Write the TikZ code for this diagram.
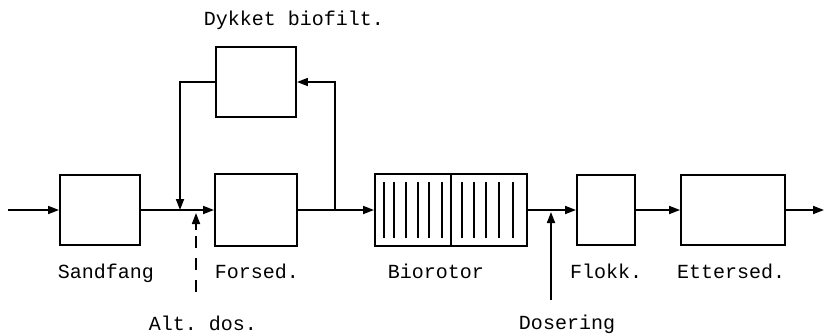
\documentclass[tikz,border=0pt]{standalone}
\usepackage{fontspec}
\setmonofont{Liberation Mono}
\usetikzlibrary{arrows.meta}
\tikzset{
  unit/.style={draw, line width=1.9pt, inner sep=0pt},
  flow/.style={line width=1.7pt, -{Triangle[length=11pt,width=8pt]}},
  plain/.style={line width=1.7pt},
  lbl/.style={anchor=base, inner sep=0pt, font=\ttfamily\fontsize{20}{24}\selectfont},
  bar/.style={line width=2.6pt}
}
\begin{document}
\begin{tikzpicture}[x=1pt,y=-1pt]
\useasboundingbox (0,0) rectangle (824,335);
% boxes
\node[unit, minimum width=80pt, minimum height=70pt] (sand) at (100,210) {};
\node[unit, minimum width=82pt, minimum height=72pt] (fors) at (256,210) {};
\node[unit, minimum width=80pt, minimum height=70pt] (dyk) at (256,82) {};
\node[unit, minimum width=152pt, minimum height=72pt] (bio) at (451,210) {};
\node[unit, minimum width=58pt, minimum height=70pt] (flok) at (606,210) {};
\node[unit, minimum width=104pt, minimum height=70pt] (ett) at (733,210) {};
% biorotor interior
\draw[line width=1.9pt] (bio.north) -- (bio.south);
\foreach \x in {384,394,406,418,429,442,462,474,486,499,513}
  \draw[bar] (\x,182) -- (\x,238);
% coordinates
\coordinate (in) at (8,210);
\coordinate (out) at (824,210);
\coordinate (j0) at (180,210);
\coordinate (j1) at (335,210);
\coordinate (ad0) at (196,292);
\coordinate (ad2) at (196,230);
\coordinate (ad1) at (196,213);
\coordinate (ds0) at (551,300);
\coordinate (ds1) at (551,212);
% main flow
\draw[flow] (in) -- (sand.west);
\draw[flow] (sand.east) -- (fors.west);
\draw[flow] (fors.east) -- (bio.west);
\draw[flow] (bio.east) -- (flok.west);
\draw[flow] (flok.east) -- (ett.west);
\draw[flow] (ett.east) -- (out);
% bypass through submerged biofilter
\draw[flow] (j1) |- (dyk.east);
\draw[flow] (dyk.west) -| (j0);
% dosing
\draw[plain, dash pattern=on 12pt off 10pt] (ad0) -- (ad2);
\draw[flow] (ad2) -- (ad1);
\draw[flow] (ds0) -- (ds1);
% labels
\node[lbl] (lsand) at (106,278) {Sandfang};
\node[lbl] (lfors) at (257,278) {Forsed.};
\node[lbl] (lbio) at (436,278) {Biorotor};
\node[lbl] (lflok) at (606,278) {Flokk.};
\node[lbl] (lett) at (731,278) {Ettersed.};
\node[lbl] (ldyk) at (294,25) {Dykket biofilt.};
\node[lbl] (lalt) at (203,330) {Alt. dos.};
\node[lbl] (ldos) at (567,329) {Dosering};
\end{tikzpicture}
\end{document}
